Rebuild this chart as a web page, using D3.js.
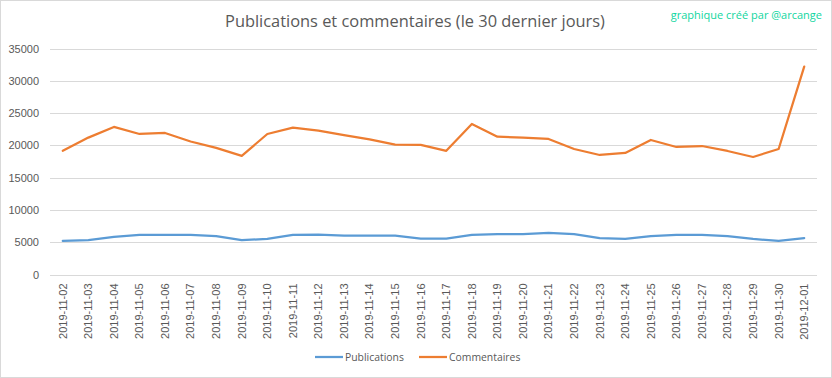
<!DOCTYPE html>
<html>
<head>
<meta charset="utf-8">
<script src="https://cdn.jsdelivr.net/npm/d3@7"></script>
<style>
  body { margin: 0; background: #fff; }
  svg { display: block; font-family: "Open Sans", "Liberation Sans", sans-serif; }
</style>
</head>
<body>
<div id="chart"></div>
<script>
const dates = [
  "2019-11-02", "2019-11-03", "2019-11-04", "2019-11-05", "2019-11-06",
  "2019-11-07", "2019-11-08", "2019-11-09", "2019-11-10", "2019-11-11",
  "2019-11-12", "2019-11-13", "2019-11-14", "2019-11-15", "2019-11-16",
  "2019-11-17", "2019-11-18", "2019-11-19", "2019-11-20", "2019-11-21",
  "2019-11-22", "2019-11-23", "2019-11-24", "2019-11-25", "2019-11-26",
  "2019-11-27", "2019-11-28", "2019-11-29", "2019-11-30", "2019-12-01"
];
const publications = [
  5190, 5340, 5810, 6120, 6120, 6120, 5960, 5340, 5500, 6120,
  6170, 6010, 6010, 6010, 5550, 5550, 6120, 6270, 6270, 6430,
  6270, 5650, 5500, 5960, 6120, 6120, 5960, 5500, 5190, 5650
];
const commentaires = [
  19150, 21200, 22850, 21760, 21920, 20600, 19600, 18380, 21760, 22740,
  22270, 21600, 20940, 20110, 20060, 19150, 23310, 21350, 21190, 20990,
  19440, 18510, 18820, 20830, 19750, 19900, 19130, 18200, 19440, 32190
];
const yTicks = [0, 5000, 10000, 15000, 20000, 25000, 30000, 35000];

const W = 832, H = 378;
const margin = { top: 48.5, right: 15, bottom: 103.5, left: 50 };

const svg = d3.select('#chart').append('svg')
  .attr('width', W)
  .attr('height', H);

// outer frame
svg.append('rect')
  .attr('x', 0.5).attr('y', 0.5)
  .attr('width', W - 1).attr('height', H - 1)
  .attr('fill', '#fff')
  .attr('stroke', '#d9d9d9');

const x = d3.scaleBand()
  .domain(dates)
  .range([margin.left, W - margin.right]);

const y = d3.scaleLinear()
  .domain([0, 35000])
  .range([H - margin.bottom, margin.top]);

// gridlines
svg.append('g')
  .selectAll('line')
  .data(yTicks)
  .join('line')
    .attr('x1', margin.left)
    .attr('x2', W - margin.right)
    .attr('y1', d => Math.round(y(d)) + 0.5)
    .attr('y2', d => Math.round(y(d)) + 0.5)
    .attr('stroke', '#d9d9d9')
    .attr('stroke-width', 1);

// y axis labels
const yAxis = svg.append('g')
  .attr('transform', `translate(${margin.left},0)`)
  .call(d3.axisLeft(y).tickValues(yTicks).tickSize(0).tickPadding(11).tickFormat(d3.format('d')));
yAxis.select('.domain').remove();
yAxis.selectAll('text')
  .attr('fill', '#595959')
  .style('font-size', '11px');

// x axis labels
const xAxis = svg.append('g')
  .attr('transform', `translate(0,${H - margin.bottom})`)
  .call(d3.axisBottom(x).tickSize(0));
xAxis.select('.domain').remove();
xAxis.selectAll('text')
  .attr('fill', '#595959')
  .style('font-size', '11px')
  .attr('transform', 'rotate(-90)')
  .attr('text-anchor', 'end')
  .attr('x', -9)
  .attr('y', 0)
  .attr('dy', '0.35em');

const line = d3.line()
  .x((d, i) => x(dates[i]) + x.bandwidth() / 2)
  .y(d => y(d));

const series = [
  { name: 'Publications', values: publications, color: '#5b9bd5' },
  { name: 'Commentaires', values: commentaires, color: '#ed7d31' }
];

svg.append('g')
  .selectAll('path')
  .data(series)
  .join('path')
    .attr('d', d => line(d.values))
    .attr('fill', 'none')
    .attr('stroke', d => d.color)
    .attr('stroke-width', 2.25)
    .attr('stroke-linejoin', 'round')
    .attr('stroke-linecap', 'round');

// title
svg.append('text')
  .attr('x', 415)
  .attr('y', 27)
  .attr('text-anchor', 'middle')
  .attr('fill', '#595959')
  .style('font-size', '16.4px')
  .text('Publications et commentaires (le 30 dernier jours)');

svg.append('text')
  .attr('x', 822)
  .attr('y', 19)
  .attr('text-anchor', 'end')
  .attr('fill', '#10d6a0')
  .style('font-size', '11px')
  .text('graphique créé par @arcange');

// legend
const legendItems = [
  { name: 'Publications', color: '#5b9bd5', x: 315 },
  { name: 'Commentaires', color: '#ed7d31', x: 419 }
];
const legend = svg.append('g')
  .selectAll('g')
  .data(legendItems)
  .join('g')
    .attr('transform', d => `translate(${d.x},357)`);
legend.append('line')
  .attr('x1', 0).attr('x2', 28)
  .attr('stroke', d => d.color)
  .attr('stroke-width', 2.25);
legend.append('text')
  .attr('x', 30)
  .attr('dy', '0.35em')
  .attr('fill', '#595959')
  .style('font-size', '10.4px')
  .text(d => d.name);
</script>
</body>
</html>
